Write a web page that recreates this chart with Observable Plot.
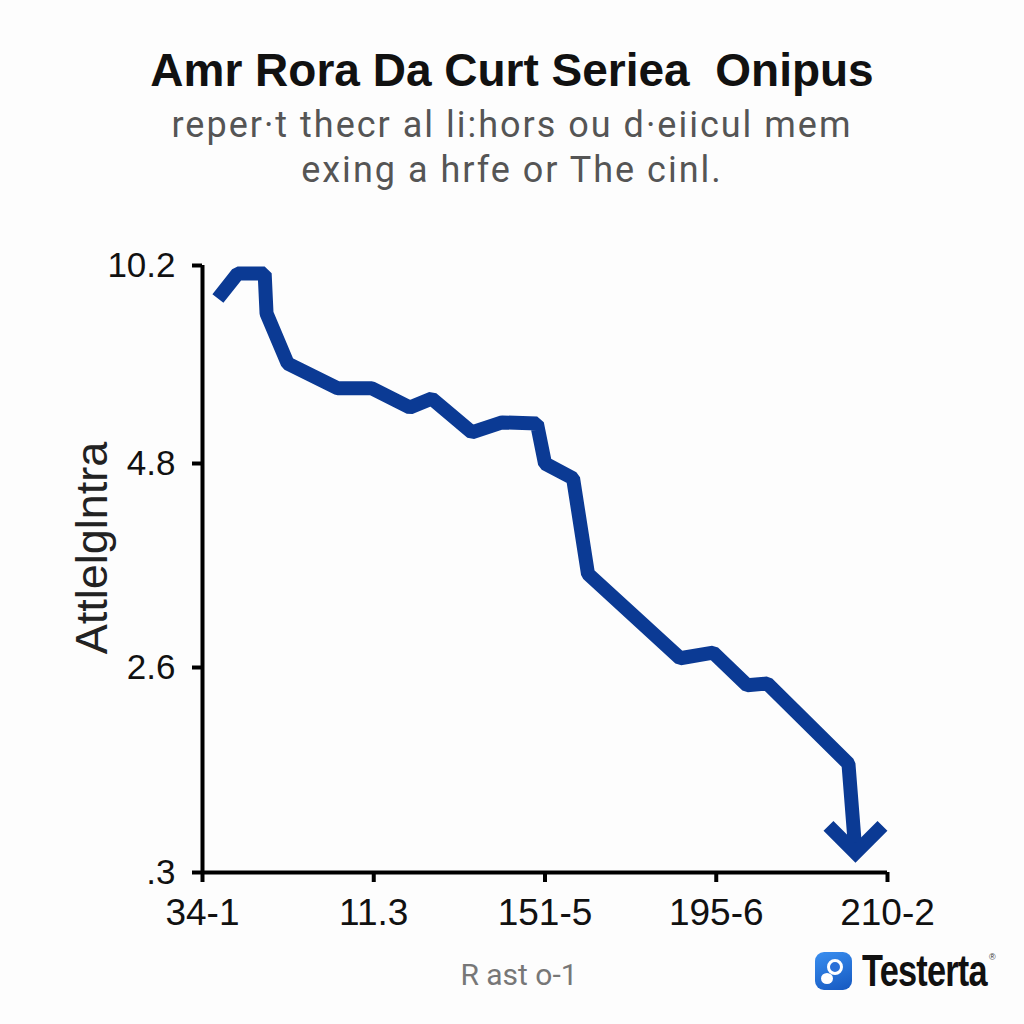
<!DOCTYPE html>
<html>
<head>
<meta charset="utf-8">
<script src="https://cdn.jsdelivr.net/npm/d3@7"></script>
<script src="https://cdn.jsdelivr.net/npm/@observablehq/plot@0.6"></script>
<style>
html,body{margin:0;padding:0;background:#fdfdfd;}
#page{position:relative;width:1024px;height:1024px;overflow:hidden;background:#fdfdfd;font-family:"Liberation Sans",Arial,sans-serif;}
#title{position:absolute;left:0;width:1024px;top:45px;text-align:center;font-weight:bold;font-size:46px;line-height:50px;color:#111;white-space:pre;letter-spacing:0px;}
#subtitle{position:absolute;left:0;width:1024px;top:103px;text-align:center;font-family:Roboto,sans-serif;font-size:36px;line-height:45px;color:#555;letter-spacing:2px;}
#chart{position:absolute;left:0;top:220px;}
#xlabel{position:absolute;left:419px;width:200px;top:957px;text-align:center;font-family:Roboto,sans-serif;font-size:30px;line-height:36px;color:#777;}
#ylabel{position:absolute;left:-58px;width:300px;top:523px;height:50px;line-height:50px;text-align:center;font-size:45px;color:#222;transform:rotate(-90deg);}
#logo{position:absolute;left:815px;top:950px;height:44px;width:200px;}
#logo .icon{position:absolute;left:0;top:2px;width:37px;height:38px;border-radius:9px;background:linear-gradient(160deg,#3a8ff0,#1558c0);}
#logo .icon:before{content:"";position:absolute;left:12px;top:7px;width:10px;height:10px;border-radius:50%;border:3px solid #fff;background:#2a70d8;}
#logo .icon:after{content:"";position:absolute;left:6px;top:21px;width:12px;height:11px;border-radius:50%;background:#fff;}
#logo .txt{position:absolute;left:47px;top:-4px;font-family:"Liberation Sans",sans-serif;font-weight:bold;font-size:44px;line-height:50px;color:#111;letter-spacing:-1px;white-space:nowrap;transform:scaleX(0.78);transform-origin:0 50%;}
#logo .reg{position:absolute;left:174px;top:2px;font-size:9px;color:#333;}
</style>
</head>
<body>
<div id="page">
  <div id="title">Amr Rora Da Curt Seriea  Onipus</div>
  <div id="subtitle">reper·t thecr al li:hors ou d·eiicul mem<br>exing a hrfe or The cinl.</div>
  <div id="chart"></div>
  <div id="ylabel">Attlelglntra</div>
  <div id="xlabel">R ast o-1</div>
  <div id="logo"><div class="icon"></div><span class="txt">Testerta</span><span class="reg">®</span></div>
</div>
<script>
const xTickValues = [0, 1, 2, 3, 4];
const xTickLabels = ["34-1", "11.3", "151-5", "195-6", "210-2"];
const yTickValues = [10.2, 4.8, 2.6, 0.3];
const yTickLabels = ["10.2", "4.8", "2.6", ".3"];
const seriesX = [0.09, 0.205, 0.363, 0.374, 0.497, 0.789, 0.988, 1.211, 1.339, 1.573, 1.749, 1.953, 2.0, 2.164, 2.251, 2.789, 2.982, 3.181, 3.298, 3.772, 3.813];
const seriesY = [9.30, 9.98, 9.98, 8.89, 7.53, 6.85, 6.85, 6.33, 6.57, 5.65, 5.92, 5.89, 4.80, 4.64, 3.61, 2.70, 2.76, 2.40, 2.42, 1.52, 0.52];

const data = seriesX.map((x, i) => ({x, y: seriesY[i]}));
const yDomain = yTickValues.slice().sort((a, b) => a - b);
const lineColor = "#0b3a94";

const chevron = {
  draw(ctx, size) {
    const s = Math.sqrt(size / Math.PI);
    ctx.moveTo(-s, -s);
    ctx.lineTo(0, 0);
    ctx.lineTo(s, -s);
  }
};

const chart = Plot.plot({
  width: 1024,
  height: 720,
  marginLeft: 202,
  marginRight: 137,
  marginTop: 45,
  marginBottom: 68,
  style: {background: "transparent", fontFamily: "Liberation Sans, Arial, sans-serif", fontSize: "35px", color: "#111", overflow: "visible"},
  x: {domain: [0, 4]},
  y: {type: "linear", domain: yDomain, range: [652, 447, 243, 45]},
  marks: [
    Plot.axisY({ticks: yTickValues, tickFormat: d => yTickLabels[yTickValues.indexOf(d)], tickSize: 10, tickPadding: 17, strokeWidth: 4, stroke: "#000", label: null, fontSize: 35}),
    Plot.axisX({ticks: xTickValues, tickFormat: d => xTickLabels[xTickValues.indexOf(d)], tickSize: 10, tickPadding: 16, strokeWidth: 4, stroke: "#000", label: null, fontSize: 37}),
    Plot.ruleX([0], {y1: yDomain[0], y2: yDomain[yDomain.length - 1], stroke: "#000", strokeWidth: 4}),
    Plot.ruleY([yDomain[0]], {stroke: "#000", strokeWidth: 4}),
    Plot.line(data, {x: "x", y: "y", stroke: lineColor, strokeWidth: 14, strokeLinejoin: "miter", strokeLinecap: "butt"}),
    Plot.dot(data.slice(-1), {x: "x", y: "y", symbol: chevron, r: 27, stroke: lineColor, strokeWidth: 14, fill: "none", strokeLinejoin: "miter"})
  ]
});
document.getElementById("chart").appendChild(chart);
</script>
</body>
</html>
